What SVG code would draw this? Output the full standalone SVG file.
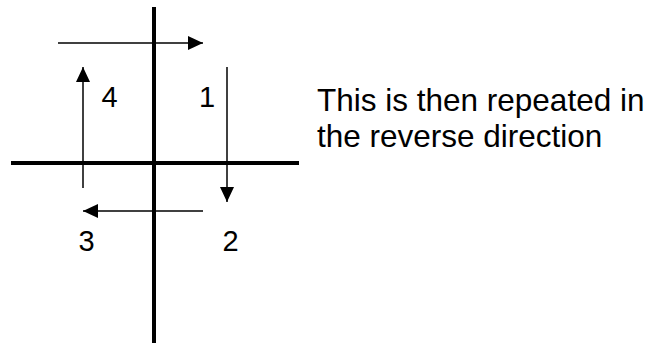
<svg xmlns="http://www.w3.org/2000/svg" width="662" height="343" viewBox="0 0 662 343">
<style>
.axis{stroke:#000;stroke-width:4;fill:none}
.arr{stroke:#000;stroke-width:1.5;fill:none;marker-end:url(#ah)}
.lbl{font-family:"Liberation Sans",Arial,sans-serif;font-size:29px;fill:#000}
.txt{font-family:"Liberation Sans",Arial,sans-serif;font-size:31.5px;fill:#000}
</style>
<defs>
<marker id="ah" markerUnits="userSpaceOnUse" markerWidth="16" markerHeight="14" refX="15" refY="7" orient="auto">
<path d="M0,0 L15,7 L0,14 z" fill="#000"/>
</marker>
</defs>
<g id="axes">
<line class="axis" x1="154" y1="7" x2="154" y2="343"/>
<line class="axis" x1="11" y1="163" x2="299" y2="163"/>
</g>
<g id="connectors">
<line class="arr" x1="58" y1="43" x2="203" y2="43"/>
<line class="arr" x1="227" y1="67" x2="227" y2="202"/>
<line class="arr" x1="203" y1="211" x2="83" y2="211"/>
<line class="arr" x1="83" y1="188" x2="83" y2="67"/>
</g>
<g id="label1"><text class="lbl" x="199" y="106.5">1</text></g>
<g id="label2"><text class="lbl" x="222.5" y="251">2</text></g>
<g id="label3"><text class="lbl" x="78.5" y="251">3</text></g>
<g id="label4"><text class="lbl" x="101.5" y="106.5">4</text></g>
<g id="note">
<text class="txt" x="317" y="110.5">This is then repeated in</text>
<text class="txt" x="317" y="146.5">the reverse direction</text>
</g>
</svg>
